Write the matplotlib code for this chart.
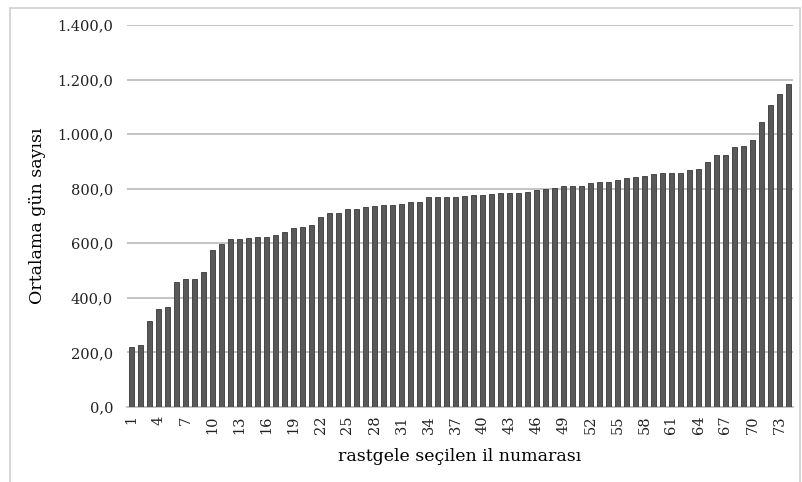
import matplotlib
matplotlib.use('Agg')
import matplotlib.pyplot as plt
from matplotlib.patches import Rectangle
from matplotlib.ticker import FuncFormatter

# il numarası (rastgele seçilen) ve ortalama gün sayısı
il_no = list(range(1, 75))
gun = [220, 228, 315, 360, 368, 457, 468, 468, 494, 576,
       597, 615, 615, 618, 622, 624, 630, 643, 655, 660,
       666, 698, 711, 711, 727, 727, 732, 735, 739, 739,
       743, 751, 751, 768, 768, 768, 771, 774, 777, 778,
       779, 783, 783, 784, 788, 797, 800, 804, 810, 810,
       810, 820, 826, 826, 832, 838, 842, 845, 854, 858,
       858, 858, 867, 873, 899, 922, 925, 953, 957, 979,
       1043, 1107, 1147, 1183]
y_ticks = [0, 200, 400, 600, 800, 1000, 1200, 1400]
x_ticks = il_no[::3]

plt.rcParams['font.family'] = ['DejaVu Serif']

fig = plt.figure(figsize=(8.02, 4.82), dpi=100)
ax = fig.add_axes([127 / 802, 1 - 407 / 482, 666 / 802, 382 / 482])

# çerçeve
fig.patches.append(Rectangle((10 / 802, -0.01), 790 / 802, 1 - 8 / 482 + 0.01,
                             transform=fig.transFigure, fill=False,
                             edgecolor='#d0d0d0', linewidth=1.2))

ax.bar(il_no, gun, width=0.66, color='#595959', edgecolor='#383838', linewidth=0.6, zorder=3)

ax.set_xlim(0.5, 74.5)
ax.set_ylim(0, 1400)
ax.set_yticks(y_ticks)
ax.yaxis.set_major_formatter(FuncFormatter(
    lambda v, p: '{:,.1f}'.format(v).replace(',', 'X').replace('.', ',').replace('X', '.')))
ax.set_xticks(x_ticks)
ax.set_xticklabels([str(i) for i in x_ticks], rotation=90)
ax.grid(axis='y', color='#bfbfbf', linewidth=1.3, zorder=0)
ax.tick_params(axis='both', length=0, labelsize=10.5, colors='#222222')
ax.tick_params(axis='y', pad=10)
ax.tick_params(axis='x', pad=6)

for s in ['top', 'right', 'left']:
    ax.spines[s].set_visible(False)
ax.spines['bottom'].set_color('#bfbfbf')
ax.spines['bottom'].set_linewidth(1.3)

ax.set_ylabel('Ortalama gün sayısı', fontsize=12.5, labelpad=8)
ax.set_xlabel('rastgele seçilen il numarası', fontsize=12.5, labelpad=10)

plt.savefig('out.png', dpi=100)
